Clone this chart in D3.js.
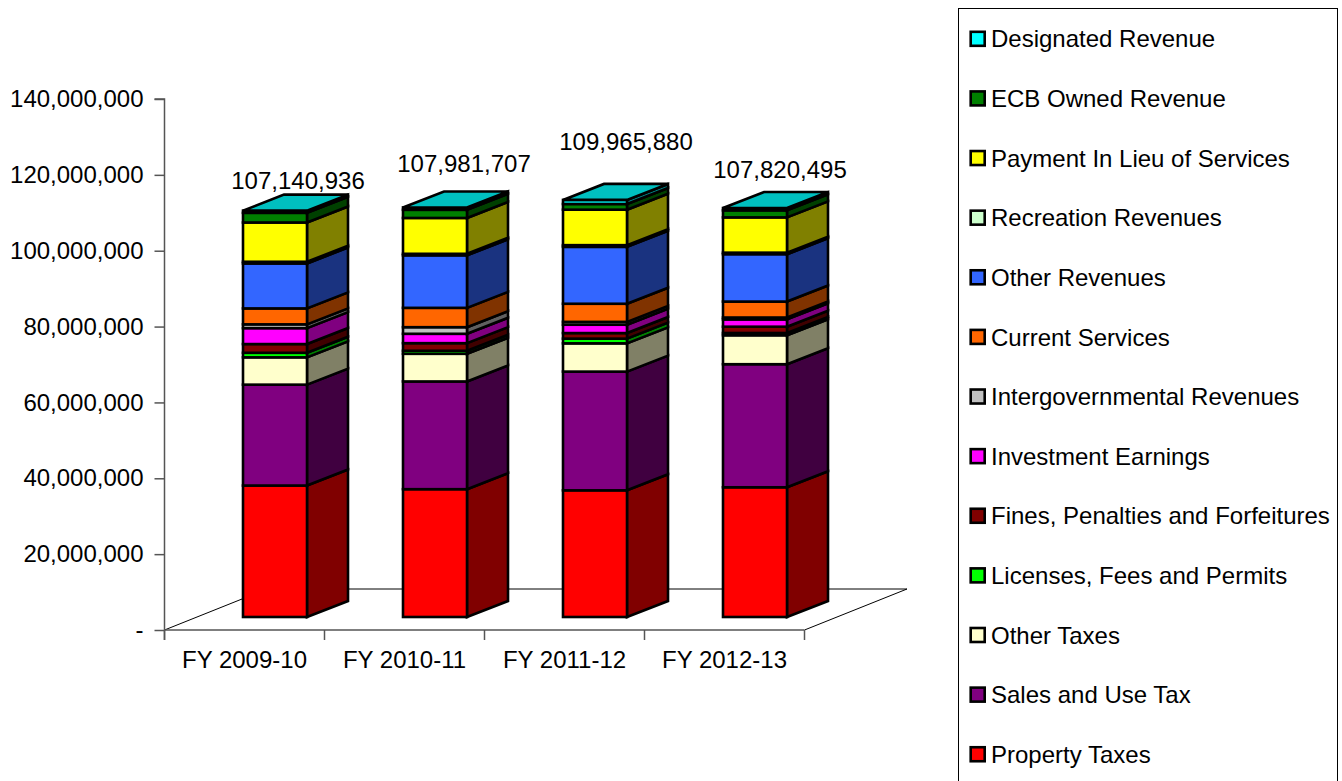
<!DOCTYPE html>
<html>
<head>
<meta charset="utf-8">
<style>
html, body { margin: 0; padding: 0; background: #fff; }
svg { display: block; }
text { font-family: "Liberation Sans", Arial, sans-serif; fill: #000; }
</style>
<script src="https://cdn.jsdelivr.net/npm/d3@7/dist/d3.min.js"></script>
</head>
<body>
<svg id="chart" width="1342" height="781"></svg>
<script>
// Revenue by fiscal year, stacked from the bottom series upward.
const years = ["FY 2009-10", "FY 2010-11", "FY 2011-12", "FY 2012-13"];

const propertyTaxes = [34660000, 33700000, 33400000, 34200000];
const salesAndUseTax = [26600000, 28400000, 31300000, 32450000];
const otherTaxes = [7200000, 7300000, 7450000, 7630000];
const licensesFeesPermits = [1200000, 800000, 1240000, 600000];
const finesPenalties = [2300000, 2000000, 1470000, 1660000];
const investmentEarnings = [4200000, 2470000, 2200000, 1920000];
const intergovernmental = [1000000, 1740000, 750000, 500000];
const currentServices = [4200000, 5100000, 4780000, 4200000];
const otherRevenues = [11850000, 13850000, 15000000, 12500000];
const recreationRevenues = [450000, 400000, 450000, 400000];
const paymentInLieu = [10350000, 9450000, 9350000, 9300000];
const ecbOwned = [2550000, 2150000, 1500000, 1850000];
const designatedRevenue = [580936, 621707, 1075880, 610495];

const seriesNames = [
  "Property Taxes", "Sales and Use Tax", "Other Taxes", "Licenses, Fees and Permits",
  "Fines, Penalties and Forfeitures", "Investment Earnings", "Intergovernmental Revenues",
  "Current Services", "Other Revenues", "Recreation Revenues", "Payment In Lieu of Services",
  "ECB Owned Revenue", "Designated Revenue"
];
const seriesValues = [
  propertyTaxes, salesAndUseTax, otherTaxes, licensesFeesPermits, finesPenalties,
  investmentEarnings, intergovernmental, currentServices, otherRevenues,
  recreationRevenues, paymentInLieu, ecbOwned, designatedRevenue
];
const frontColors = ["#ff0000", "#800080", "#ffffcc", "#00ff00", "#800000", "#ff00ff", "#c0c0c0",
  "#ff6600", "#3366ff", "#ccffcc", "#ffff00", "#008000", "#00ffff"];
const sideColors = ["#800000", "#400040", "#808066", "#008000", "#400000", "#800080", "#606060",
  "#803300", "#1a3380", "#668066", "#808000", "#004000", "#008080"];
const topColor = "#00c0c0";

const yTicks = [0, 20e6, 40e6, 60e6, 80e6, 100e6, 120e6, 140e6];

// Pseudo-3D layout: the floor recedes up and to the right.
const plot = { left: 164.5, right: 804.5, base: 630, top: 99 };
const floorDepth = { x: 102.5, y: -41 };
const barInset = { x: 30.5, y: -13 };
const barDepth = { x: 41, y: -16 };
const totalLabelNudge = [{ dx: 23, dy: -22 }, { dx: 29, dy: -35 }, { dx: 31, dy: -50 }, { dx: 25, dy: -30 }];

const fontSize = 24;
const svg = d3.select("#chart");

const y = d3.scaleLinear().domain([0, 140e6]).range([plot.base, plot.top]);
const x = d3.scaleBand().domain(years).range([plot.left, plot.right])
  .paddingInner(0.6).paddingOuter(0.3);

const polygon = d3.line();

// Floor of the plot
svg.append("path")
  .attr("d", polygon([
    [plot.left, plot.base],
    [plot.left + floorDepth.x, plot.base + floorDepth.y],
    [plot.right + floorDepth.x, plot.base + floorDepth.y],
    [plot.right, plot.base]
  ]))
  .attr("fill", "#fff").attr("stroke", "#000").attr("stroke-width", 1);

// Value axis
const yAxis = d3.axisLeft(y).tickValues(yTicks).tickSize(10).tickPadding(11)
  .tickFormat(d => d === 0 ? "-" : d3.format(",")(d));
const yG = svg.append("g").attr("transform", `translate(${plot.left},0)`).call(yAxis);
yG.select(".domain").attr("d", `M-10,${plot.top}H0V${plot.base + 10}`).attr("stroke", "#555").attr("stroke-width", 1.5);
yG.selectAll(".tick line").attr("stroke", "#555").attr("stroke-width", 1.5);
yG.selectAll(".tick text").style("font-size", fontSize + "px").attr("font-family", null);

// Category axis: labels centred in each band, ticks on the band edges
const xAxis = d3.axisBottom(x).tickSize(0).tickPadding(21);
const xG = svg.append("g").attr("transform", `translate(0,${plot.base})`).call(xAxis);
xG.select(".domain").attr("d", `M${plot.left},0H${plot.right}`).attr("stroke", "#555").attr("stroke-width", 1.5);
xG.selectAll(".tick text").style("font-size", fontSize + "px").attr("font-family", null);
xG.selectAll(".edge").data(d3.range(years.length + 1)).join("line")
  .attr("class", "edge")
  .attr("x1", i => plot.left + i * x.step()).attr("x2", i => plot.left + i * x.step())
  .attr("y1", 0).attr("y2", 10)
  .attr("stroke", "#555").attr("stroke-width", 1.5);

// Stacked columns
const stackRows = years.map((yr, i) => {
  const row = {};
  seriesNames.forEach((n, s) => { row[n] = seriesValues[s][i]; });
  return row;
});
const stacked = d3.stack().keys(seriesNames)(stackRows);
const totals = stackRows.map(r => d3.sum(seriesNames, n => r[n]));
const px = v => y(v) + barInset.y;

years.forEach((yr, i) => {
  const x0 = x(yr) + barInset.x;
  const x1 = x0 + x.bandwidth();
  const g = svg.append("g").attr("stroke", "#000").attr("stroke-width", 2.6).attr("stroke-linejoin", "miter");
  stacked.forEach((layer, s) => {
    const yLow = px(layer[i][0]);
    const yHigh = px(layer[i][1]);
    g.append("path")
      .attr("d", polygon([[x1, yLow], [x1 + barDepth.x, yLow + barDepth.y],
        [x1 + barDepth.x, yHigh + barDepth.y], [x1, yHigh]]) + "Z")
      .attr("fill", sideColors[s]);
    g.append("rect")
      .attr("x", x0).attr("y", yHigh).attr("width", x1 - x0).attr("height", yLow - yHigh)
      .attr("fill", frontColors[s]);
  });
  const yTop = px(totals[i]);
  g.append("path")
    .attr("d", polygon([[x0, yTop], [x0 + barDepth.x, yTop + barDepth.y],
      [x1 + barDepth.x, yTop + barDepth.y], [x1, yTop]]) + "Z")
    .attr("fill", topColor);

  svg.append("text")
    .attr("x", (x0 + x1) / 2 + totalLabelNudge[i].dx)
    .attr("y", yTop + totalLabelNudge[i].dy)
    .attr("text-anchor", "middle")
    .style("font-size", fontSize + "px")
    .text(d3.format(",")(totals[i]));
});

// Legend, newest series first; the frame runs past the lower edge of the page
const legend = { x: 958.5, y: 8.5, width: 379, height: 790, firstRow: 39, rowStep: 59.62 };
svg.append("rect")
  .attr("x", legend.x).attr("y", legend.y).attr("width", legend.width).attr("height", legend.height)
  .attr("fill", "#fff").attr("stroke", "#000").attr("stroke-width", 1);
const rowOrder = d3.range(seriesNames.length).reverse();
const rows = svg.selectAll(".legend-row").data(rowOrder).join("g")
  .attr("class", "legend-row")
  .attr("transform", (d, i) => `translate(0,${legend.firstRow + i * legend.rowStep})`);
rows.append("rect")
  .attr("x", 970.7).attr("y", -7.2).attr("width", 14).attr("height", 14)
  .attr("fill", d => frontColors[d]).attr("stroke", "#000").attr("stroke-width", 2.6);
rows.append("text")
  .attr("x", 991).attr("y", 8.4)
  .style("font-size", fontSize + "px")
  .text(d => seriesNames[d]);
</script>
</body>
</html>
